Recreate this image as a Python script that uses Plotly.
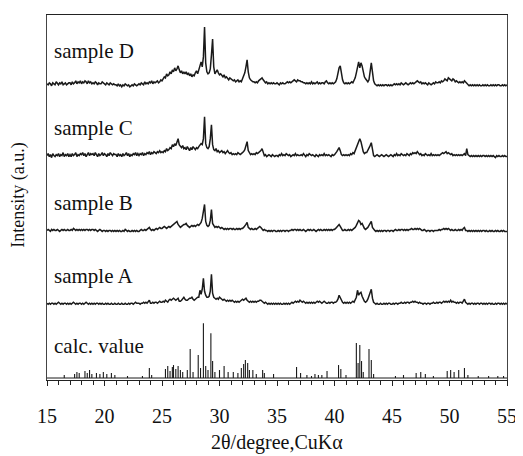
import plotly.graph_objects as go

# 2theta grid: 15.0 .. 55.0 step 0.1
two_theta = [round(15 + 0.1 * i, 1) for i in range(401)]

sample_D = [
    3,2,4,3,1,4,3,2,5,3,2,4,3,5,2,3,4,2,3,4,
    4,2,5,3,4,6,3,5,4,6,3,5,4,6,5,3,6,4,5,3,
    4,3,5,4,2,4,3,3,5,4,3,2,4,3,2,4,3,2,3,2,
    2,1,3,1,2,0,2,1,3,2,1,2,0,1,2,1,3,2,1,2,
    3,2,4,3,2,5,3,4,3,5,4,6,3,5,4,5,6,4,5,7,
    6,8,10,9,13,11,12,15,13,17,15,19,16,18,21,17,14,16,13,15,
    13,15,12,14,11,13,10,12,11,14,16,13,18,22,25,20,30,60,24,15,
    13,14,18,32,48,20,13,15,17,14,12,13,11,10,12,9,10,8,7,9,
    8,7,6,7,5,6,7,5,6,5,8,10,14,20,27,15,9,7,6,5,
    5,4,5,4,6,7,8,9,7,5,4,5,3,4,3,4,3,4,3,3,
    4,3,2,4,3,4,3,3,4,5,4,5,4,5,6,7,6,5,7,6,
    6,5,5,4,4,3,4,3,4,3,5,3,4,3,4,5,3,4,3,4,
    4,3,5,6,4,3,4,3,4,3,4,5,8,14,19,21,12,7,4,3,
    4,3,4,3,4,5,4,6,9,14,22,25,19,24,21,14,10,8,6,5,
    7,14,24,15,6,3,2,1,2,1,2,1,2,1,2,2,1,2,1,2,
    1,2,3,2,3,2,3,2,4,3,2,3,4,3,2,3,4,3,4,3,
    4,5,6,5,4,5,3,4,3,4,3,2,4,3,2,3,4,3,5,4,
    4,5,4,6,5,6,8,7,6,9,8,7,6,8,7,5,6,5,4,5,
    4,5,4,6,5,3,2,1,2,1,2,1,2,1,2,1,2,1,1,2,
    1,2,1,2,1,1,2,1,2,1,2,1,2,2,1,1,2,1,2,1,
    2,
]

sample_C = [
    3,5,2,4,1,5,3,2,4,3,5,2,4,3,6,2,4,3,5,2,
    4,2,5,3,4,6,2,4,3,5,4,6,3,5,2,4,6,3,5,4,
    5,3,6,4,2,5,3,4,6,3,5,4,2,5,3,6,4,3,5,4,
    4,2,5,3,4,2,5,3,4,6,3,5,2,4,3,5,4,6,3,5,
    3,5,4,6,3,5,4,6,5,7,4,6,5,7,6,5,7,6,8,6,
    7,6,8,7,10,8,9,11,10,14,12,15,13,18,20,14,12,11,13,10,
    11,9,12,10,8,11,9,12,10,9,11,10,12,13,15,14,20,42,15,11,
    10,12,20,34,14,9,8,10,7,8,6,7,8,6,7,5,7,8,6,5,
    6,4,5,4,5,4,6,5,4,5,6,7,9,12,17,8,5,4,5,4,
    5,4,6,5,6,7,8,10,5,3,4,2,3,4,3,2,4,3,2,3,
    3,2,4,3,5,3,4,3,5,4,3,4,2,3,4,3,5,3,4,3,
    3,4,3,5,4,2,4,3,5,4,3,4,3,2,4,3,2,4,3,4,
    3,5,3,4,3,4,3,2,4,3,4,5,7,9,11,8,4,3,4,3,
    4,3,4,3,5,4,6,5,8,12,16,18,20,17,10,7,5,6,6,8,
    10,13,16,7,3,2,3,4,3,2,3,4,3,2,3,4,3,2,3,4,
    3,2,4,3,5,3,4,3,5,4,3,4,3,5,4,3,5,4,6,5,
    6,5,7,5,4,5,3,4,3,5,4,3,4,3,5,3,4,3,4,3,
    4,3,4,5,6,5,6,7,5,6,5,4,5,3,4,3,4,3,4,3,
    4,3,4,5,3,10,4,3,2,3,2,3,2,3,2,3,2,3,2,3,
    3,2,3,2,3,2,3,2,3,2,1,3,2,3,2,2,3,2,3,2,
    2,
]

sample_B = [
    2,3,2,1,3,2,3,2,2,3,2,1,2,3,2,3,2,2,3,2,
    2,3,2,4,3,2,3,2,3,2,3,2,3,2,3,3,2,3,2,3,
    3,2,3,2,1,2,3,2,1,2,2,1,2,1,2,2,1,2,1,2,
    1,2,1,2,1,1,2,1,3,2,1,2,1,1,2,1,2,1,2,1,
    1,2,3,2,2,3,2,3,4,5,3,2,3,2,3,4,3,4,5,4,
    4,5,6,5,4,5,6,5,6,7,8,9,10,11,8,6,5,6,7,8,
    8,9,7,6,5,6,7,6,7,6,7,8,7,9,10,14,20,28,11,7,
    6,7,12,23,9,6,5,6,5,6,5,4,5,4,3,4,3,4,3,4,
    4,3,4,3,3,4,3,4,3,4,4,5,6,8,10,5,4,3,4,3,
    3,4,3,4,5,6,5,3,2,3,2,2,1,2,1,2,1,2,2,1,
    1,2,1,2,1,2,2,1,2,2,1,2,2,3,2,3,3,2,3,2,
    3,2,2,3,2,1,2,3,2,3,2,2,3,2,1,2,3,2,3,2,
    2,3,2,3,2,3,2,3,2,3,3,4,5,6,8,6,3,2,2,3,
    2,2,3,2,3,2,3,4,5,7,10,12,11,8,9,6,4,3,4,5,
    7,9,11,5,3,2,1,2,1,2,1,2,1,2,2,1,2,2,1,2,
    2,1,2,3,2,2,3,2,3,3,2,3,2,3,2,3,3,4,3,3,
    4,3,4,3,4,3,2,2,3,2,1,2,2,1,2,2,1,2,2,2,
    2,3,2,3,3,4,3,4,3,4,3,2,3,2,2,3,2,2,3,2,
    3,2,4,5,2,2,1,2,1,2,1,2,1,2,1,2,1,2,1,2,
    2,1,2,1,1,2,1,2,1,1,2,1,2,1,1,2,1,2,1,1,
    1,
]

sample_A = [
    2,1,2,1,2,2,1,2,1,2,3,2,1,2,1,2,2,1,2,1,
    2,1,2,3,2,1,2,1,2,2,1,2,1,2,3,2,1,2,1,2,
    1,2,1,2,2,1,2,1,2,1,1,2,1,2,1,1,2,1,1,2,
    1,1,2,1,1,2,1,1,2,1,1,2,1,2,2,1,2,3,2,2,
    2,1,2,2,3,2,3,2,3,5,2,2,3,2,3,3,2,3,4,3,
    3,4,3,5,4,3,5,6,5,6,7,6,5,6,7,4,4,5,6,8,
    6,5,5,6,7,7,8,6,5,6,7,8,8,15,11,16,27,14,10,8,
    8,9,14,31,12,8,7,6,7,6,8,7,6,5,6,5,4,5,4,5,
    4,5,4,3,4,3,4,3,4,5,6,5,6,7,5,4,3,4,3,4,
    3,4,3,4,4,5,5,4,3,2,3,2,1,2,1,2,1,2,1,2,
    1,2,1,2,1,1,2,1,2,1,2,1,2,3,2,3,4,3,4,3,
    5,4,3,4,3,2,3,2,3,2,3,2,3,2,3,4,3,4,3,2,
    3,4,3,2,2,3,2,3,3,2,3,3,4,6,10,7,4,3,2,3,
    2,3,2,3,2,3,4,3,5,8,15,10,12,13,9,6,4,3,4,6,
    9,12,16,7,3,2,1,2,1,1,2,1,1,2,1,2,1,2,2,1,
    1,2,1,2,2,1,2,2,3,2,2,3,2,3,3,2,3,3,4,3,
    4,3,3,2,3,2,2,1,2,2,1,2,2,1,2,2,3,2,2,3,
    2,3,3,2,3,4,3,4,3,4,3,5,3,4,3,3,2,3,2,3,
    3,2,4,6,3,2,1,2,1,2,2,1,2,1,2,2,1,2,2,1,
    2,1,2,1,2,2,1,2,1,1,2,1,2,2,1,2,1,2,1,2,
    1,
]

# calculated stick pattern
calc_pos = [16.5, 17.4, 17.6, 17.8, 18.3, 18.5, 18.7, 18.9, 19.3, 19.6, 19.9, 20.2,
            20.6, 20.9, 22.0, 23.3, 23.9, 24.1, 25.3, 25.5, 25.7, 25.9, 26.0, 26.2,
            26.4, 26.6, 26.8, 27.2, 27.45, 27.7, 28.15, 28.35, 28.6, 28.8, 29.0, 29.25,
            29.4, 29.6, 30.0, 30.4, 30.75, 31.2, 31.6, 31.9, 32.1, 32.25, 32.45, 32.6,
            32.9, 33.2, 33.75, 33.9, 34.7, 36.7, 37.05, 37.6, 38.0, 38.3, 38.6, 38.9,
            39.35, 40.35, 40.55, 41.0, 41.9, 42.05, 42.2, 42.35, 42.5, 43.0, 43.2, 43.4,
            45.3, 46.0, 47.1, 47.5, 47.9, 48.6, 49.8, 50.1, 50.4, 50.8, 51.3, 51.6,
            52.5, 53.4, 54.2, 54.7]
calc_int = [3, 4, 6, 5, 7, 5, 8, 4, 5, 4, 6, 4,
            5, 3, 2, 2, 10, 3, 9, 12, 7, 11, 13, 9,
            12, 8, 6, 8, 29, 6, 23, 10, 55, 12, 8, 45,
            17, 6, 8, 12, 6, 6, 5, 10, 14, 18, 15, 8,
            8, 4, 8, 5, 4, 11, 5, 3, 2, 4, 3, 3,
            7, 13, 9, 3, 35, 15, 33, 17, 6, 29, 18, 4,
            2, 3, 5, 6, 4, 2, 7, 8, 6, 8, 10, 3,
            2, 2, 2, 2]

labels = ["sample D", "sample C", "sample B", "sample A", "calc. value"]
x_ticks = [15, 20, 25, 30, 35, 40, 45, 50, 55]

for s in (sample_D, sample_C, sample_B, sample_A):
    assert len(s) == len(two_theta), len(s)
assert len(calc_pos) == len(calc_int)

# vertical offsets of the stacked patterns (layout only)
offsets = [294, 222, 148, 75, 2]
label_y = [330, 253, 177, 104, 34]

FONT = "Liberation Serif"
LINE = "#1a1a1a"

fig = go.Figure()
for series, off in zip((sample_D, sample_C, sample_B, sample_A), offsets[:4]):
    fig.add_trace(go.Scatter(x=two_theta, y=[v + off for v in series], mode="lines",
                             line=dict(color=LINE, width=1.5), showlegend=False,
                             hoverinfo="skip"))

sx, sy = [], []
coff = offsets[4]
for p, h in zip(calc_pos, calc_int):
    sx += [p, p, None]
    sy += [coff, coff + h, None]
fig.add_trace(go.Scatter(x=sx, y=sy, mode="lines", line=dict(color=LINE, width=1.1),
                         showlegend=False, hoverinfo="skip"))
fig.add_trace(go.Scatter(x=[15, 55], y=[coff, coff], mode="lines",
                         line=dict(color=LINE, width=1), showlegend=False, hoverinfo="skip"))

for lab, ly in zip(labels, label_y):
    fig.add_annotation(text=lab, xref="paper", x=0, xshift=5, xanchor="left",
                       yref="y", y=ly, yanchor="middle", showarrow=False,
                       font=dict(family=FONT, size=21, color="#111"))

fig.add_annotation(text="2θ/degree,CuKα", xref="paper", x=0.5, yref="paper", y=0,
                   yshift=-49, yanchor="top", showarrow=False,
                   font=dict(family=FONT, size=20, color="#111"))
fig.add_annotation(text="Intensity (a.u.)", xref="paper", x=0, xshift=-28, xanchor="center",
                   yref="paper", y=0.505, yanchor="middle", textangle=-90, showarrow=False,
                   font=dict(family=FONT, size=18, color="#111"))

fig.update_xaxes(range=[15, 55], tickmode="array", tickvals=x_ticks,
                 ticktext=[str(t) for t in x_ticks], ticks="outside", ticklen=5,
                 tickcolor="#222", tickwidth=1, ticklabelstandoff=13,
                 minor=dict(dtick=1, tick0=15, ticks="outside", ticklen=4, tickcolor="#222"),
                 showline=True, linecolor="#222", linewidth=1, mirror=True,
                 showgrid=False, zeroline=False,
                 tickfont=dict(family=FONT, size=20, color="#111"))
fig.update_yaxes(range=[0, 366], showticklabels=False, ticks="", showgrid=False,
                 zeroline=False, showline=True, linecolor="#444", linewidth=1, mirror=True)

# the page body adds an 8 px margin, so the figure is sized to fit the window
fig.update_layout(width=515, height=448, margin=dict(l=39, r=11, t=6, b=76),
                  plot_bgcolor="white", paper_bgcolor="white",
                  font=dict(family=FONT))

fig.write_html("out.html")
